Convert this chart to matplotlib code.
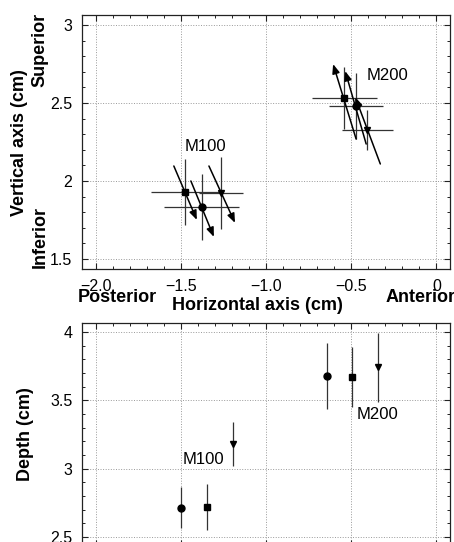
import matplotlib
matplotlib.use('agg')
import matplotlib.pyplot as plt
from matplotlib.ticker import MultipleLocator

plt.rcParams['font.family'] = ['Liberation Sans', 'DejaVu Sans']

# Datos: panel superior (horizontal vs vertical)
m100_x = [-1.476, -1.376, -1.265]
m100_y = [1.929, 1.833, 1.923]
m100_xerr = [0.20, 0.22, 0.13]
m100_yerr = [0.21, 0.21, 0.23]
m100_arrow_tail = [(-1.541, 2.096), (-1.441, 2.000), (-1.335, 2.096)]
m100_arrow_head = [(-1.406, 1.750), (-1.306, 1.641), (-1.182, 1.731)]

m200_x = [-0.541, -0.471, -0.406]
m200_y = [2.532, 2.481, 2.327]
m200_xerr = [0.19, 0.16, 0.15]
m200_yerr = [0.20, 0.21, 0.13]
m200_arrow_tail = [(-0.471, 2.269), (-0.412, 2.237), (-0.329, 2.109)]
m200_arrow_head = [(-0.606, 2.750), (-0.535, 2.705), (-0.476, 2.538)]

# Datos: panel inferior (profundidad)
d100_x = [-1.500, -1.347, -1.194]
d100_y = [2.715, 2.720, 3.180]
d100_err = [0.15, 0.17, 0.16]
d200_x = [-0.641, -0.494, -0.341]
d200_y = [3.680, 3.670, 3.740]
d200_err = [0.24, 0.22, 0.25]

markers = ['s', 'o', 'v']
markers_depth = ['o', 's', 'v']

xticks = [-2.0, -1.5, -1.0, -0.5, 0]
xtick_labels = ['\u22122.0', '\u22121.5', '\u22121.0', '\u22120.5', '0']
yticks_top = [1.5, 2, 2.5, 3]
ytick_labels_top = ['1.5', '2', '2.5', '3']
yticks_bot = [2.5, 3, 3.5, 4]
ytick_labels_bot = ['2.5', '3', '3.5', '4']

W, H = 454, 542
fig = plt.figure(figsize=(W / 100, H / 100), dpi=100)
ax1 = fig.add_axes([82 / W, 1 - 269 / H, 368 / W, 254 / H])
ax2 = fig.add_axes([82 / W, 1 - 546 / H, 368 / W, 223 / H])


def estilo(ax, yt, ytl):
    ax.set_xlim(-2.08, 0.08)
    ax.set_xticks(xticks)
    ax.set_xticklabels(xtick_labels)
    ax.set_yticks(yt)
    ax.set_yticklabels(ytl)
    ax.xaxis.set_minor_locator(MultipleLocator(0.1))
    ax.yaxis.set_minor_locator(MultipleLocator(0.1))
    ax.tick_params(which='both', direction='in', top=True, right=True,
                   labelsize=11.5, pad=7, color='#222222')
    ax.tick_params(which='major', length=4, width=0.8)
    ax.tick_params(which='minor', length=2.5, width=0.7)
    ax.grid(True, which='major', linestyle=':', color='#999999', linewidth=0.7)
    for s in ax.spines.values():
        s.set_linewidth(0.9)
        s.set_color('#222222')


estilo(ax1, yticks_top, ytick_labels_top)
ax1.set_ylim(1.435, 3.065)
estilo(ax2, yticks_bot, ytick_labels_bot)
ax2.set_ylim(2.435, 4.065)
ax2.tick_params(labelbottom=False)

# Panel superior
for xs, ys, xe, ye, tails, heads in [
        (m100_x, m100_y, m100_xerr, m100_yerr, m100_arrow_tail, m100_arrow_head),
        (m200_x, m200_y, m200_xerr, m200_yerr, m200_arrow_tail, m200_arrow_head)]:
    for i in range(3):
        ax1.errorbar(xs[i], ys[i], xerr=xe[i], yerr=ye[i], fmt=markers[i],
                     color='black', ms=5, ecolor='#333333', elinewidth=0.9,
                     capsize=0, zorder=3)
        ax1.annotate('', xy=heads[i], xytext=tails[i],
                     arrowprops=dict(arrowstyle='-|>,head_length=0.55,head_width=0.22',
                                     color='black', lw=1.1, shrinkA=0, shrinkB=0),
                     zorder=4)

ax1.text(-1.476, 2.218, 'M100', fontsize=12, ha='left', va='center')
ax1.text(-0.412, 2.679, 'M200', fontsize=12, ha='left', va='center')

# Panel inferior
for xs, ys, es in [(d100_x, d100_y, d100_err), (d200_x, d200_y, d200_err)]:
    for i in range(3):
        ax2.errorbar(xs[i], ys[i], yerr=es[i], fmt=markers_depth[i], color='black',
                     ms=5, ecolor='#333333', elinewidth=0.9, capsize=0, zorder=3)

ax2.text(-1.488, 3.066, 'M100', fontsize=12, ha='left', va='center')
ax2.text(-0.471, 3.394, 'M200', fontsize=12, ha='left', va='center')


# Etiquetas en coordenadas de pixel
def ftext(x, y, s, **kw):
    fig.text(x / W, 1 - y / H, s, fontsize=13, fontweight='bold', **kw)


ftext(20, 143, 'Vertical axis (cm)', rotation=90, ha='center', va='center')
ftext(40, 50, 'Superior', rotation=90, ha='center', va='center')
ftext(40, 237, 'Inferior', rotation=90, ha='center', va='center')
ftext(117, 298, 'Posterior', ha='center', va='center')
ftext(257, 305, 'Horizontal axis (cm)', ha='center', va='center')
ftext(386, 298, 'Anterior', ha='left', va='center')
ftext(26, 434, 'Depth (cm)', rotation=90, ha='center', va='center')

fig.savefig('out.png', dpi=100)
